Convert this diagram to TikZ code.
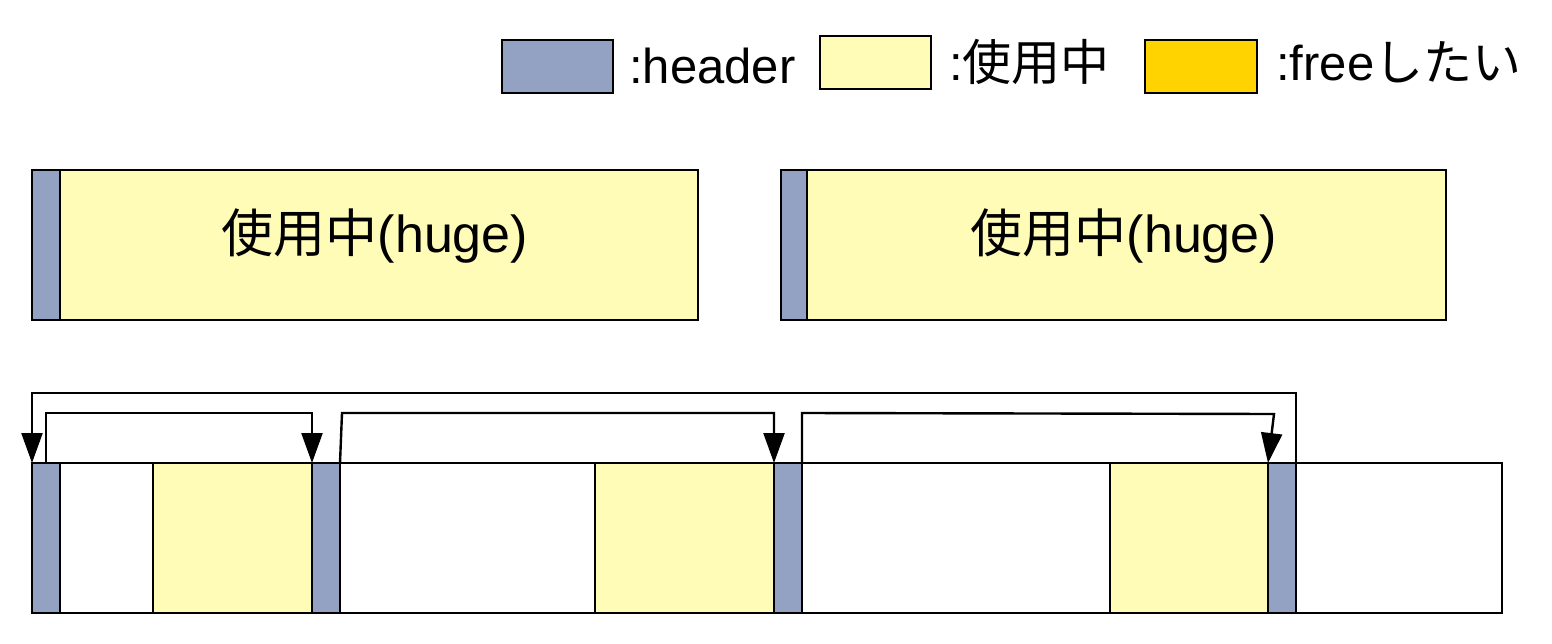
\documentclass[tikz,border=0pt]{standalone}
\usepackage{fontspec}
\setmainfont{Liberation Sans}
\newfontfamily\jp{Noto Sans CJK JP}
\usetikzlibrary{arrows.meta}
\definecolor{hdr}{RGB}{147,162,194}
\definecolor{used}{RGB}{255,252,184}
\definecolor{freec}{RGB}{255,211,0}
\tikzset{
  blk/.style={draw=black, line width=2.4pt, inner sep=0pt, outer sep=0pt, anchor=north west},
  hdrbox/.style={blk, fill=hdr},
  usedbox/.style={blk, fill=used},
  freebox/.style={blk, fill=freec},
  whitebox/.style={blk, fill=white},
  lbl/.style={inner sep=0pt, anchor=west, font=\fontsize{49}{56}\selectfont},
  big/.style={inner sep=0pt, font=\fontsize{52}{60}\selectfont},
  arr/.style={draw=black, line width=2.4pt, -{Triangle[length=30pt,width=21pt]}}
}
\newcommand{\blkbox}[6]{\node[#6, minimum width={#4-#2}, minimum height={#5-#3}] (#1) at (#2,#3) {};}
\begin{document}
\begin{tikzpicture}[x=1pt,y=-1pt]
\useasboundingbox (0,0) rectangle (1552,644);
% legend
\blkbox{lh}{502}{40}{613}{93}{hdrbox}
\node[lbl] (lht) at (629,66) {:header};
\blkbox{lu}{820}{36}{931}{89}{usedbox}
\node[lbl] (lut) at (949,62) {:{\jp 使用中}};
\blkbox{lf}{1145}{40}{1257}{93}{freebox}
\node[lbl] (lft) at (1276,62) {:free{\jp したい}};
% top blocks
\blkbox{ta}{32}{170}{698}{320}{usedbox}
\blkbox{tah}{32}{170}{60}{320}{hdrbox}
\node[big] (tat) at (375,236) {{\jp 使用中}(huge)};
\blkbox{tb}{781}{170}{1446}{320}{usedbox}
\blkbox{tbh}{781}{170}{807}{320}{hdrbox}
\node[big] (tbt) at (1124,236) {{\jp 使用中}(huge)};
% bottom row
\blkbox{row}{32}{463}{1502}{613}{whitebox}
\blkbox{u1}{153}{463}{312}{613}{usedbox}
\blkbox{u2}{595}{463}{774}{613}{usedbox}
\blkbox{u3}{1110}{463}{1268}{613}{usedbox}
\blkbox{h1}{32}{463}{60}{613}{hdrbox}
\blkbox{h2}{312}{463}{340}{613}{hdrbox}
\blkbox{h3}{774}{463}{802}{613}{hdrbox}
\blkbox{h4}{1268}{463}{1296}{613}{hdrbox}
% arrows
\draw[arr] (h1.north) -- ++(0,-50) -| (h2.north west);
\draw[arr] (h2.north east) -- ++(2,-50) -| (h3.north west);
\draw[arr] (h3.north east) -- ++(0,-50) -- ([xshift=6pt,yshift=49pt]h4.north west) -- (h4.north west);
\draw[arr] (h4.north east) -- ++(0,-70) -| (h1.north west);
\end{tikzpicture}
\end{document}
